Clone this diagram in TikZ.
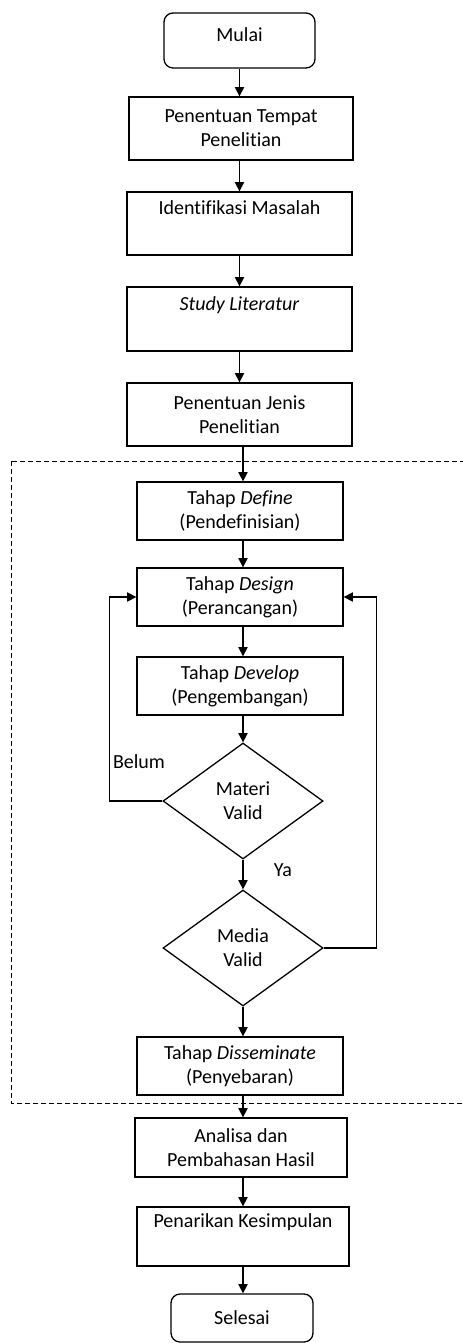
\documentclass[tikz,border=0pt]{standalone}
\usepackage{fontspec}
\setmainfont[Ligatures=NoCommon]{Carlito}
\usetikzlibrary{shapes.geometric,arrows.meta}
\begin{document}
\begin{tikzpicture}[x=0.5pt,y=-0.5pt,
  font=\fontsize{10}{12}\selectfont,
  every node/.style={inner sep=0pt, align=center},
  box/.style={draw, line width=0.65pt, rectangle},
  term/.style={draw, line width=0.65pt, rectangle, rounded corners=4.5pt},
  dec/.style={draw, line width=0.65pt, diamond, minimum width=80pt, minimum height=58pt},
  arr/.style={line width=0.65pt, -{Triangle[width=4.6pt,length=4.6pt]}},
  lbl/.style={}]
\useasboundingbox (0,0) rectangle (462,1343);

\node[term, minimum width=75.5pt, minimum height=27.5pt, text height=7pt, text depth=5.5pt] (mulai) at (239.5,40.5) {Mulai};
\node[box, minimum width=112pt, minimum height=31.5pt] (tempat) at (241,128.5) {Penentuan Tempat\\Penelitian};
\node[box, minimum width=112.5pt, minimum height=31.5pt] (ident) at (239.5,223.5) {Identifikasi Masalah\\\strut};
\node[box, minimum width=112.5pt, minimum height=32pt] (study) at (239.5,319) {\textit{Study Literatur}\\\strut};
\node[box, minimum width=112.5pt, minimum height=31.5pt] (jenis) at (239.5,414.5) {Penentuan Jenis\\Penelitian};

\draw[dashed, dash pattern=on 2.5pt off 1.5pt, line width=0.5pt] (11,461) rectangle (480,1103);

\node[box, minimum width=103pt, minimum height=29pt] (define) at (240,511) {Tahap \textit{Define}\\(Pendefinisian)};
\node[box, minimum width=103pt, minimum height=29pt] (design) at (240,597) {Tahap \textit{Design}\\(Perancangan)};
\node[box, minimum width=103pt, minimum height=29pt] (develop) at (240,686) {Tahap \textit{Develop}\\(Pengembangan)};
\node[dec] (materi) at (243,801) {Materi\\Valid};
\node[dec] (media) at (243,948) {Media\\Valid};
\node[box, minimum width=103pt, minimum height=29pt] (dissem) at (240,1066) {Tahap \textit{Disseminate}\\(Penyebaran)};
\node[box, minimum width=106pt, minimum height=29.5pt] (analisa) at (241,1147.5) {Analisa dan\\Pembahasan Hasil};
\node[box, minimum width=106pt, minimum height=29.5pt] (tarik) at (243,1236.5) {Penarikan Kesimpulan\\\strut};
\node[term, minimum width=71pt, minimum height=24pt] (selesai) at (242,1318) {Selesai};

\node[lbl] (belum) at (139,762) {Belum};
\node[lbl] (ya) at (283,870) {Ya};

\draw[arr] (mulai) -- (mulai |- tempat.north);
\draw[arr] (tempat.south -| mulai) -- (mulai |- ident.north);
\draw[arr] (ident) -- (ident |- study.north);
\draw[arr] (study) -- (study |- jenis.north);
\draw[arr] (jenis.south -| materi) -- (materi |- define.north);
\draw[arr] (define.south -| materi) -- (materi |- design.north);
\draw[arr] (design.south -| materi) -- (materi |- develop.north);
\draw[arr] (develop.south -| materi) -- (materi.north);
\draw[arr] (materi) -- (media.north);
\draw[arr] (media) -- (media |- dissem.north);
\draw[arr] (dissem.south -| tarik) -- (tarik |- analisa.north);
\draw[arr] (analisa.south -| tarik) -- (tarik.north);
\draw[arr] (tarik) -- (tarik |- selesai.north);

\draw[arr] (materi.west) -- ++(-53,0) |- (design.west);
\draw[arr] (media.east) -- ++(53,0) |- (design.east);
\end{tikzpicture}
\end{document}
